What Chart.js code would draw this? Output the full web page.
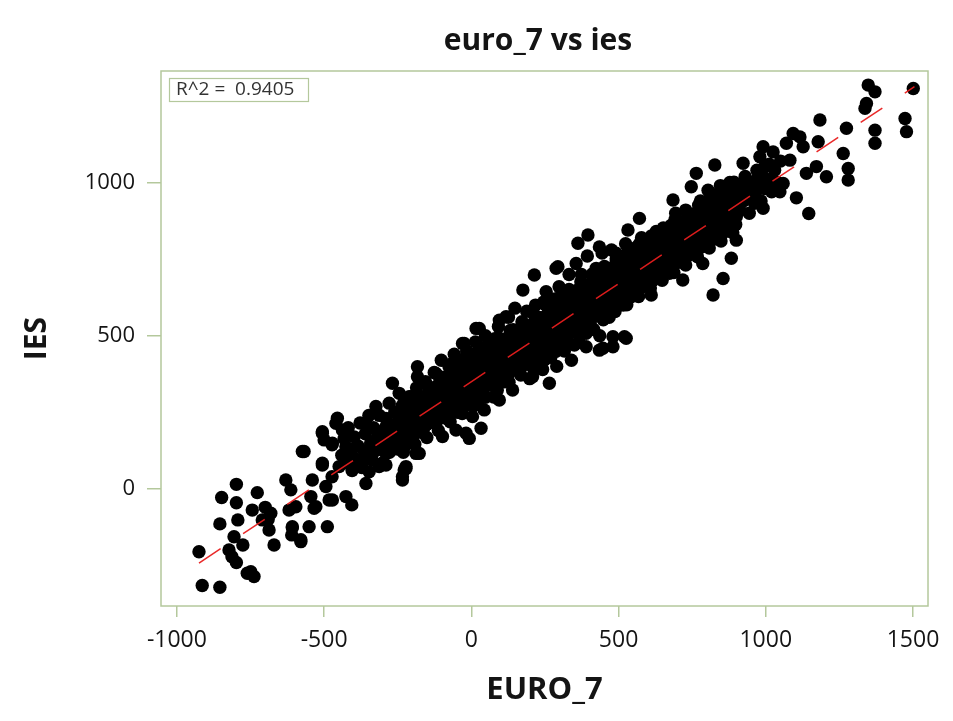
<!DOCTYPE html>
<html>
<head>
<meta charset="utf-8">
<script src="https://cdn.jsdelivr.net/npm/chart.js@4.4.0/dist/chart.umd.min.js"></script>
<style>
  html, body { margin: 0; padding: 0; background: #fff; }
</style>
</head>
<body>
<canvas id="chart" width="953" height="721"></canvas>
<script>
// axis ticks
const xTicks = [-1000, -500, 0, 500, 1000, 1500];
const yTicks = [0, 500, 1000];

// fitted line end points (euro_7, ies)
const fitX = [-925, 1505];
const fitY = [-242, 1313];
const rSquared = "0.9405";

// points as [euro_7, ies]
const lowerTail = [
  [-925,-205],[-914,-315],[-854,-321],[-854,-114],[-848,-28],[-798,15],[-798,-45],[-793,-101],
  [-806,-156],[-823,-199],[-813,-221],[-798,-240],[-761,-275],[-738,-286],[-749,-270],[-776,-183],
  [-744,-69],[-727,-12],[-681,-79],[-687,-134],[-670,-183],[-710,-101],[-700,-60],[-690,-100],
  [-630,29],[-613,-3],[-619,-69],[-596,-58],[-608,-123],[-610,-150],[-579,-172],[-551,-123],
  [-489,-123],[-574,122],[-545,-25],[-534,-63],[-540,29],[-506,84],[-506,182],[-494,8],
  [-483,-36],[-473,40],[-473,144],[-460,214],[-608,-127],[-579,-166],[-472,-36],[-528,-58],
  [-426,-25],[-406,-52]
];

const leftBand = [
  [-568,122],[-506,78],[-506,187],[-500,160],[-455,231],[-438,192],[-472,149],[-426,138],
  [-403,105],[-358,214],[-324,269],[-324,160],[-279,280],[-268,345],[-245,312],[-290,203],
  [-256,160],[-222,73],[-183,399],[-183,366],[-120,377],[-177,116],[-200,160],[-290,116],
  [-358,116],[-449,73],[-313,73],[-154,236],[-98,171],[-52,192],[-18,182],[4,236],
  [-64,410],[-86,366],[-211,301],[-188,280],[-228,62],[-234,29],[-7,165],[33,198],
  [44,258],[95,290],[140,323],[-358,18],[-347,56],[-290,78],[-234,40],[-222,67],[-188,116],
  [-440,110],[-432,165],[-425,85],[-418,200],[-410,130],[-405,60],[-398,170],
  [-392,95],[-385,140],[-378,215],[-372,70],[-365,125],[-360,180],[-352,100],[-348,240],
  [-342,150],[-338,95],[-332,200],[-326,125],[-318,170],[-312,240],[-306,135],[-300,190],[-302,85],
  [-295,150],[-290,230],[-284,180],[-278,120],[-272,210],[-266,160],[-260,250],[-254,195],[-250,130]
];

const coreLow = [
  [-246,225],[-240,175],[-236,270],[-230,200],[-226,140],[-220,240],[-214,190],[-208,300],[-204,220],[-200,165],
  [-196,250],[-192,200],[-186,330],[-182,235],[-176,270],[-172,185],[-166,300],[-160,240],[-156,350],[-150,270],[-152,210],
  [-146,290],[-142,240],[-136,320],[-132,265],[-126,380],[-122,300],[-118,220],[-112,340],[-108,280],[-102,420],[-100,250],
  [-96,320],[-92,290],[-88,360],[-84,230],[-80,300],[-76,400],[-72,340],[-68,270],[-62,330],[-58,440],[-54,300],[-50,380],[-48,250],
  [-44,350],[-40,300],[-36,420],[-32,330],[-28,390],[-24,270],[-20,360],[-16,450],[-12,310],[-8,400],[-4,340],[0,280],[2,430],
  [6,370],[10,320],[14,480],[18,400],[22,350],[26,290],[30,420],[34,380],[38,460],[42,330],[46,400],[50,360],[48,500],
  [56,430],[60,380],[64,340],[68,460],[72,410],[76,300],[80,490],[84,440],[88,380],[92,530],[96,420],[100,360],[98,470]
];

const coreMid = [
  [106,450],[110,400],[114,350],[118,490],[122,430],[126,560],[130,380],[134,470],[138,420],[142,520],[146,450],[150,390],[148,590],
  [156,480],[160,430],[164,520],[168,470],[172,400],[176,540],[180,500],[184,440],[188,580],[192,470],[196,410],[200,510],[198,360],
  [206,490],[210,540],[214,450],[218,600],[222,500],[226,420],[230,560],[234,470],[238,520],[242,390],[246,610],[250,500],
  [254,540],[258,460],[262,580],[266,510],[270,430],[274,620],[278,550],[282,490],[286,590],[290,400],[294,530],[298,660],[300,470],
  [304,560],[308,510],[312,600],[316,450],[320,640],[324,560],[328,500],[332,700],[336,590],[340,420],[344,530],[348,620],[350,470],
  [354,590],[358,540],[362,650],[366,480],[370,600],[374,700],[378,560],[382,510],[386,640],[390,600],[394,760],[398,540],[400,660],
  [404,610],[408,570],[412,680],[416,520],[420,630],[424,720],[428,590],[432,660],[436,500],[440,620],[444,770],[448,580],[450,700],
  [456,650],[460,610],[464,720],[468,560],[472,680],[476,780],[480,630],[484,700],[488,600],[492,740],[496,660],[500,620]
];

const coreHigh = [
  [504,690],[508,640],[512,750],[516,600],[520,700],[524,800],[528,670],[532,730],[536,640],[540,690],[544,760],[548,650],[550,710],
  [554,720],[558,680],[562,790],[566,640],[570,740],[574,700],[578,820],[582,660],[586,750],[590,710],[594,780],[598,690],[600,740],
  [604,760],[608,720],[612,800],[616,680],[620,770],[624,730],[628,840],[632,700],[636,780],[640,740],[644,820],[648,710],[650,770],
  [654,790],[658,750],[662,830],[666,720],[670,800],[674,760],[678,860],[682,740],[686,810],[690,780],[694,900],[698,760],[700,820],
  [704,830],[708,790],[712,870],[716,760],[720,840],[724,810],[728,910],[732,780],[736,850],[740,820],[744,880],[748,790],[750,860],
  [754,850],[758,810],[762,900],[766,780],[770,870],[774,830],[778,940],[782,800],[786,880],[790,850],[794,920],[798,820],
  [804,880],[808,840],[812,930],[816,860],[820,900],[824,820],[828,960],[832,880],[836,920],[840,850],[846,990],[850,900],
  [856,920],[860,880],[866,960],[872,900],[878,1000],[884,940],[890,870],[896,960],
  [906,950],[912,910],[918,990],[924,940],[930,1020],[936,960],[944,900],[950,980],
  [958,1000],[964,960],[970,1040],[976,990],[984,940],[990,1020],[998,980],
  [1004,1010],[1012,1060],[1020,970],[1030,1040],[1040,1000],[1050,1070]
];

// the solid band along the fit line
const coreFill = [
  [-241,152],[-236,186],[-243,214],[-238,251],[-221,166],[-217,197],[-224,228],[-219,262],
  [-202,174],[-198,212],[-204,244],[-199,277],[-181,191],[-178,219],[-184,256],[-180,288],
  [-162,199],[-158,236],[-163,268],[-159,302],[-141,216],[-138,248],[-143,282],[-139,313],
  [-122,226],[-118,262],[-121,293],[-117,331],[-101,238],[-98,272],[-103,306],[-99,341],
  [-82,252],[-78,283],[-81,321],[-77,354],[-61,264],[-58,302],[-63,331],[-59,366],
  [-42,277],[-38,311],[-41,344],[-37,381],[-21,288],[-18,326],[-23,361],[-19,392],
  [-2,302],[2,334],[-1,371],[3,404],[19,313],[22,351],[18,384],[21,417],
  [39,327],[42,358],[38,396],[41,431],[58,338],[62,376],[59,411],[63,444],
  [79,352],[82,388],[78,421],[81,456],[98,364],[102,401],[99,434],[103,471],
  [119,377],[122,414],[118,446],[121,482],[139,388],[142,426],[138,461],[141,494],
  [158,401],[162,439],[159,476],[163,506],[179,413],[182,451],[178,486],[181,521],
  [198,427],[202,464],[199,501],[203,531],[219,438],[222,476],[218,511],[221,546],
  [239,452],[242,489],[238,526],[241,559],[258,463],[262,506],[259,536],[263,571],
  [279,477],[282,514],[278,551],[281,584],[298,488],[302,531],[299,566],[303,596],
  [319,502],[322,539],[318,576],[321,609],[338,513],[342,556],[339,591],[343,621],
  [359,527],[362,564],[358,601],[361,634],[378,538],[382,581],[379,616],[383,646],
  [399,552],[402,589],[398,626],[401,659],[418,563],[422,606],[419,641],[423,674],
  [439,577],[442,619],[438,651],[441,686],[458,588],[462,631],[459,664],[463,699],
  [479,602],[482,644],[478,681],[481,711],[498,613],[502,656],[499,689],[503,724],
  [519,627],[522,669],[518,706],[521,736],[538,638],[542,681],[539,714],[543,749],
  [559,652],[562,694],[558,731],[561,764],[578,663],[582,709],[579,741],[583,776],
  [599,677],[602,719],[598,756],[601,789],[618,688],[622,736],[619,769],[623,801],
  [639,702],[642,744],[638,781],[641,814],[658,713],[662,761],[659,794],[663,829],
  [679,727],[682,774],[678,806],[681,841],[698,738],[702,786],[699,819],[703,854],
  [719,752],[722,799],[718,831],[721,864],[738,763],[742,811],[739,846],[743,879],
  [759,777],[762,824],[758,859],[761,891],[778,788],[782,836],[779,871],[783,904],
  [799,802],[802,849],[798,886],[801,919],[818,813],[822,861],[819,894],[823,931],
  [839,827],[842,874],[838,911],[841,944],[858,838],[862,889],[859,921],[863,954],
  [879,852],[882,899],[878,934],[881,969],[898,863],[902,914],[899,951],[903,979]
];

// outer edge of the band, above and below the line
const bandEdges = [
  [-231,120],[-228,287],[-192,146],[-188,311],[-151,168],[-148,337],[-112,191],[-108,366],
  [-72,219],[-68,392],[-31,246],[-28,417],[8,271],[12,441],[48,299],[52,466],
  [88,322],[92,494],[128,348],[132,517],[168,372],[172,546],[208,398],[212,571],
  [248,421],[252,601],[288,449],[292,622],[328,476],[332,651],[368,501],[372,676],
  [408,528],[412,702],[448,552],[452,726],[488,579],[492,751],[528,601],[532,777],
  [568,628],[572,801],[608,656],[612,826],[648,681],[652,852],[688,706],[692,879],
  [728,731],[732,902],[768,758],[772,926],[808,786],[812,951],[848,809],[852,976],
  [888,836],[892,1001],
  [-210,178],[-209,256],[-170,201],[-171,283],[-130,229],[-131,305],[-90,253],[-91,332],
  [-50,279],[-51,357],[-10,304],[-11,385],[30,331],[31,409],[70,355],[71,437],
  [110,379],[111,462],[150,405],[151,486],[190,432],[191,511],[230,457],[231,538],
  [270,484],[271,562],[310,507],[311,590],[350,535],[351,613],[390,559],[391,641],
  [430,586],[431,665],[470,610],[471,692],[510,637],[511,716],[550,661],[551,743],
  [590,689],[591,767],[630,712],[631,794],[670,740],[671,818],[710,763],[711,846],
  [750,791],[751,869],[790,815],[791,897],[830,842],[831,920],[870,866],[871,948]
];

const upperTail = [
  [1501,1307],[1348,1318],[1371,1296],[1342,1258],[1337,1242],[1473,1209],[1478,1166],[1371,1171],
  [1371,1128],[1184,1204],[1274,1177],[1178,1133],[1263,1095],[1280,1046],[1280,1008],[1206,1019],
  [1146,899],[1093,1160],[1070,1128],[1116,1149],[1127,1117],[991,1117],[1025,1100],[980,1084],
  [997,1052],[1082,1073],[1172,1052],[1138,1030],[968,1008],[1014,1008],[1059,997],[1048,970],
  [1104,950],[962,932],[991,916]
];

const outliers = [
  [827,1057],[764,1030],[923,1063],[747,986],[804,975],[685,943],[571,883],[532,845],
  [435,790],[492,769],[900,888],[900,812],[883,753],[855,687],[821,633],
  [611,633],[362,802],[396,829],[294,725],[214,698],[175,649],[254,644],[356,736],
  [288,720],[27,524],[-24,475],[16,524],[-30,475],[95,551],[118,562],
  [786,736],[718,682],[673,704],[543,627],[486,595],
  [390,464],[447,459],[481,497],[265,345],[208,366],[435,453],[481,464],[526,492],
  [520,497],[390,508]
];

const groups = [lowerTail, leftBand, coreLow, coreMid, coreHigh, coreFill, bandEdges, upperTail, outliers];
const scatterData = groups.flat().map(p => ({ x: p[0], y: p[1] }));
const fitData = fitX.map((v, i) => ({ x: v, y: fitY[i] }));

const frameColor = "#b4c89c";
const textColor = "#141414";
const font = "'Open Sans', 'Noto Sans', sans-serif";

const decorations = {
  id: "decorations",
  beforeDatasetsDraw(chart) {
    const { ctx, chartArea: a } = chart;
    ctx.save();
    ctx.strokeStyle = frameColor;
    ctx.lineWidth = 1.5;
    ctx.strokeRect(a.left, a.top, a.right - a.left, a.bottom - a.top);
    ctx.restore();
  },
  afterDraw(chart) {
    const { ctx } = chart;
    ctx.save();
    // title
    ctx.fillStyle = textColor;
    ctx.font = "bold 30px " + font;
    ctx.textAlign = "center";
    ctx.textBaseline = "middle";
    ctx.fillText("euro_7 vs ies", 538, 41);
    // R^2 box
    ctx.fillStyle = "#fff";
    ctx.fillRect(169.5, 78.5, 139, 23);
    ctx.strokeStyle = frameColor;
    ctx.lineWidth = 1.2;
    ctx.strokeRect(169.5, 78.5, 139, 23);
    ctx.fillStyle = "#333";
    ctx.font = "19px " + font;
    ctx.textAlign = "left";
    ctx.fillText("R^2 =  " + rSquared, 176, 90);
    ctx.restore();
  }
};

new Chart(document.getElementById("chart"), {
  type: "scatter",
  data: {
    datasets: [
      {
        type: "line",
        data: fitData,
        showLine: true,
        borderColor: "rgba(232,30,30,0.95)",
        borderWidth: 1.5,
        borderDash: [26, 27],
        pointRadius: 0,
        fill: false,
        order: 0
      },
      {
        data: scatterData,
        backgroundColor: "#000",
        borderWidth: 0,
        pointRadius: 6.7,
        pointHoverRadius: 6.7,
        order: 1
      }
    ]
  },
  options: {
    responsive: false,
    animation: false,
    events: [],
    layout: { padding: { top: 71, right: 25, left: 0, bottom: 0 } },
    plugins: { legend: { display: false }, tooltip: { enabled: false } },
    scales: {
      x: {
        type: "linear",
        min: -1054,
        max: 1551,
        afterBuildTicks: s => { s.ticks = xTicks.map(v => ({ value: v })); },
        afterFit: s => { s.height = 115; },
        grid: { drawOnChartArea: false, drawTicks: true, tickLength: 11, color: frameColor, lineWidth: 1.5 },
        border: { display: false },
        ticks: { color: textColor, padding: 10, font: { family: font, size: 23 }, callback: v => String(v) },
        title: {
          display: true,
          text: "EURO_7",
          color: textColor,
          font: { family: font, size: 31, weight: "bold" },
          padding: { top: 0, bottom: 12 }
        }
      },
      y: {
        type: "linear",
        min: -382,
        max: 1364,
        afterBuildTicks: s => { s.ticks = yTicks.map(v => ({ value: v })); },
        afterFit: s => { s.width = 161; },
        grid: { drawOnChartArea: false, drawTicks: true, tickLength: 14, color: frameColor, lineWidth: 1.5 },
        border: { display: false },
        ticks: { color: textColor, padding: 12, font: { family: font, size: 22 }, callback: v => String(v) },
        title: {
          display: true,
          text: "IES",
          color: textColor,
          font: { family: font, size: 30, weight: "bold" },
          padding: { top: 19, bottom: 0 }
        }
      }
    }
  },
  plugins: [decorations]
});
</script>
</body>
</html>
